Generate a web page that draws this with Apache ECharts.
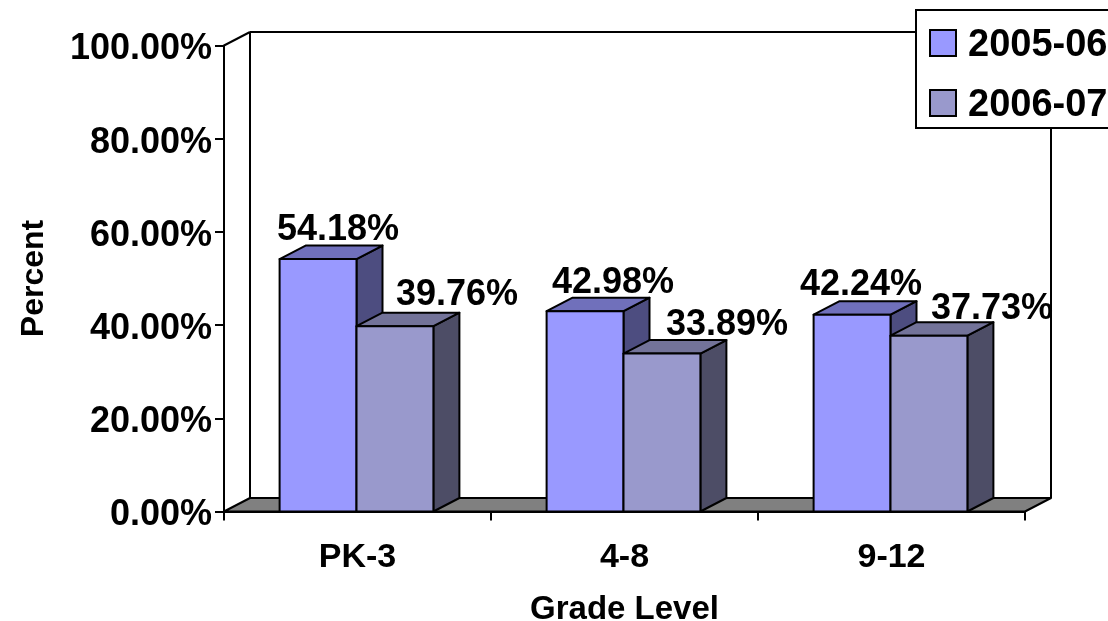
<!DOCTYPE html>
<html>
<head>
<meta charset="utf-8">
<style>
html,body{margin:0;padding:0;background:#fff;overflow:hidden}
#chart{width:1108px;height:621px}
</style>
<script src="https://cdn.jsdelivr.net/npm/echarts@6/dist/echarts.min.js"></script>
</head>
<body>
<div id="chart"></div>
<script>
var categories = ['PK-3','4-8','9-12'];
var seriesNames = ['2005-06','2006-07'];
var values0506 = [54.18,42.98,42.24];
var values0607 = [39.76,33.89,37.73];

// the labels were hand placed in the original: [dx from bar centre, dy from bar top]
var labelNudge0506 = [[20,-29],[28,-28],[9,-30]];
var labelNudge0607 = [[62,-31],[65,-28],[63,-27]];

var FONT = '"Liberation Sans", Arial, sans-serif';
var DX = 26, DY = -13.5;

function poly(points,fill){
    return {type:'polygon',shape:{points:points},style:{fill:fill,stroke:'#000',lineWidth:2,lineJoin:'round'}};
}
function line(x1,y1,x2,y2){
    return {type:'line',shape:{x1:x1,y1:y1,x2:x2,y2:y2},style:{stroke:'#000',lineWidth:2}};
}

// back wall and floor
function renderFrame(params,api){
    var band = api.size([1,0])[0];
    var x0 = api.coord([0,0])[0]-band/2;
    var x1 = api.coord([2,0])[0]+band/2;
    var y0 = api.coord([0,0])[1];
    var y1 = api.coord([0,100])[1];
    return {type:'group',children:[
        poly([[x0,y0],[x0+DX,y0+DY],[x1+DX,y0+DY],[x1,y0]],'#808080'),
        line(x0,y1,x0+DX,y1+DY),
        line(x0+DX,y1+DY,x0+DX,y0+DY),
        line(x0+DX,y1+DY,x1+DX,y1+DY),
        line(x1+DX,y1+DY,x1+DX,y0+DY)
    ]};
}

function makeBar(index,front,top,side,nudge){
    return function(params,api){
        var i = api.value(0), val = api.value(1);
        var band = api.size([1,0])[0];
        var w = band*0.288;
        var c = api.coord([i,val]);
        var base = api.coord([i,0])[1];
        var l = c[0]-w+index*w-1;
        var r = l+w;
        var t = c[1];
        return {type:'group',children:[
            poly([[r,base],[r+DX,base+DY],[r+DX,t+DY],[r,t]],side),
            poly([[l,t],[l+DX,t+DY],[r+DX,t+DY],[r,t]],top),
            poly([[l,t],[r,t],[r,base],[l,base]],front),
            {type:'text',z2:10,style:{
                x:(l+r)/2+nudge[i][0],y:t+nudge[i][1],
                text:val.toFixed(2)+'%',
                font:'bold 36px '+FONT,fill:'#000',
                align:'center',verticalAlign:'middle'
            }}
        ]};
    };
}

function toData(arr){
    return arr.map(function(v,i){return [i,v];});
}

var chart = echarts.init(document.getElementById('chart'));
chart.setOption({
    animation:false,
    backgroundColor:'#fff',
    grid:{left:224,right:83,top:45.5,bottom:109.5,outerBoundsMode:'none'},
    legend:{
        left:916,top:10,orient:'vertical',
        data:seriesNames,
        selectedMode:false,
        icon:'rect',
        itemWidth:26,itemHeight:26,itemGap:22,
        padding:[17,30,3,13],
        backgroundColor:'#fff',
        borderColor:'#000',borderWidth:2,
        itemStyle:{borderColor:'#000',borderWidth:2},
        formatter:'{a|{name}}',
        textStyle:{
            rich:{a:{fontFamily:FONT,fontWeight:'bold',fontSize:38,color:'#000',padding:[6,0,0,7]}}
        }
    },
    xAxis:{
        type:'category',
        data:categories,
        name:'Grade Level',
        nameLocation:'middle',
        nameGap:82,
        nameTextStyle:{fontFamily:FONT,fontWeight:'bold',fontSize:33,color:'#000'},
        axisLine:{lineStyle:{color:'#000',width:2}},
        axisTick:{show:true,length:9,lineStyle:{color:'#000',width:2}},
        axisLabel:{fontFamily:FONT,fontWeight:'bold',fontSize:34,color:'#000',margin:29}
    },
    yAxis:{
        type:'value',
        min:0,max:100,interval:20,
        name:'Percent',
        nameLocation:'middle',
        nameGap:174,
        nameTextStyle:{fontFamily:FONT,fontWeight:'bold',fontSize:32,color:'#000'},
        splitLine:{show:false},
        axisLine:{show:true,lineStyle:{color:'#000',width:2}},
        axisTick:{show:true,length:9,lineStyle:{color:'#000',width:2}},
        axisLabel:{
            fontFamily:FONT,fontWeight:'bold',fontSize:36,color:'#000',margin:12,
            verticalAlign:'top',lineHeight:8,
            formatter:function(v){return v.toFixed(2)+'%';}
        }
    },
    series:[
        {type:'custom',name:'frame',z:1,silent:true,data:[[0,0]],clip:false,renderItem:renderFrame},
        {type:'custom',name:seriesNames[0],z:2,clip:false,itemStyle:{color:'#9999FF'},
            encode:{x:0,y:1},data:toData(values0506),
            renderItem:makeBar(0,'#9999FF','#7070BB','#4D4D80',labelNudge0506)},
        {type:'custom',name:seriesNames[1],z:3,clip:false,itemStyle:{color:'#9999CC'},
            encode:{x:0,y:1},data:toData(values0607),
            renderItem:makeBar(1,'#9999CC','#737399','#4D4D66',labelNudge0607)}
    ]
});
</script>
</body>
</html>
